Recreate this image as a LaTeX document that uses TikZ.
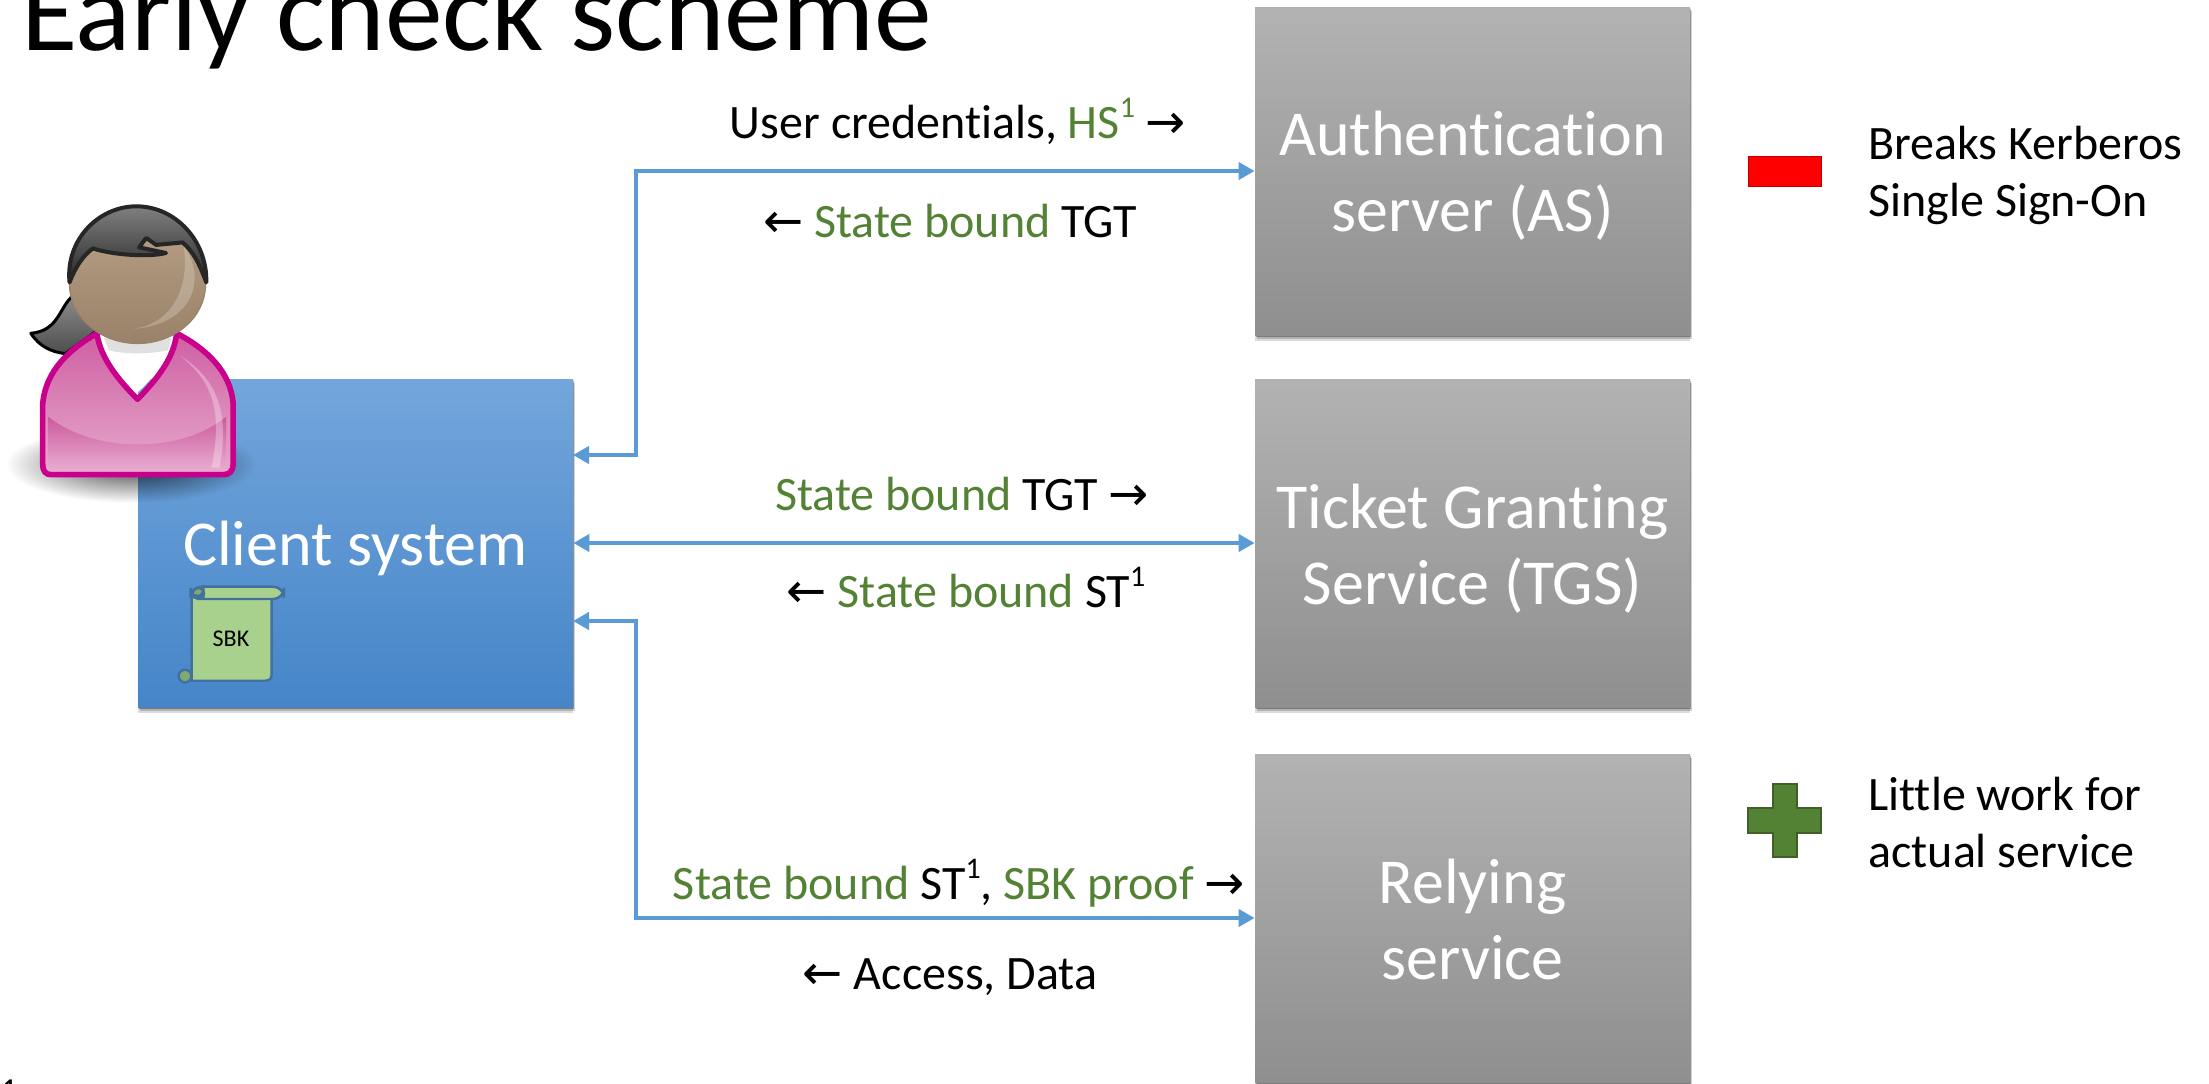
\documentclass[tikz,border=0pt]{standalone}
\usepackage{fontspec}
\setmainfont[Ligatures=NoCommon]{Carlito}
\newfontfamily\arrowfont{DejaVu Sans}
\usetikzlibrary{arrows.meta,shadows,fadings,calc}
\definecolor{lineblue}{HTML}{5B9BD5}
\definecolor{okgreen}{HTML}{548235}
\definecolor{pinkline}{HTML}{C8008C}
\definecolor{hairdark}{HTML}{262626}
\definecolor{clienttop}{HTML}{73A6DC}
\definecolor{clientmid}{HTML}{5B9BD9}
\definecolor{clientbot}{HTML}{4585C8}
\definecolor{scrollfill}{HTML}{A9D18E}
\definecolor{scrollcurl}{HTML}{7FAA72}
\definecolor{scrollline}{HTML}{41719C}
\definecolor{pinktop}{HTML}{CF5FA2}
\definecolor{pinkbot}{HTML}{E6AACD}
\definecolor{pinkglossb}{HTML}{E8ACD0}
\definecolor{pinkglosst}{HTML}{CC5A9E}
\definecolor{facetop}{HTML}{B59E84}
\definecolor{facebot}{HTML}{9A8169}
\newcommand{\gtxt}[1]{\textcolor{okgreen}{#1}}
\newcommand{\rarr}{{\arrowfont\char"2192}}
\newcommand{\larr}{{\arrowfont\char"2190}}
\newcommand{\supone}{\raisebox{.42em}{\fontsize{15}{15}\selectfont 1}}
\tikzfading[name=softblob, inner color=transparent!25, outer color=transparent!100]
\tikzset{
  softshadow/.style={
    general shadow={shadow xshift=0pt,shadow yshift=-3pt,fill=black,opacity=.14},
    general shadow={shadow xshift=1.2pt,shadow yshift=-2pt,fill=black,opacity=.18},
    general shadow={shadow xshift=.5pt,shadow yshift=-1.2pt,fill=black,opacity=.3}},
  server/.style={rectangle,inner sep=0pt,minimum width=217.5pt,minimum height=164pt,
    top color=black!30,bottom color=black!44,softshadow},
  clientbox/.style={rectangle,inner sep=0pt,minimum width=217.5pt,minimum height=164pt,
    top color=clienttop,middle color=clientmid,bottom color=clientbot,softshadow},
  boxtext/.style={text=white,align=center,inner sep=0pt,font=\fontsize{32}{38}\selectfont},
  conn/.style={draw=lineblue,line width=2.3pt,{Triangle[length=8pt,width=8.5pt]}-{Triangle[length=8pt,width=8.5pt]}},
  lab/.style={font=\fontsize{24}{28}\selectfont,inner sep=0pt,anchor=base},
  note/.style={font=\fontsize{24}{28.5}\selectfont,inner sep=0pt,align=left,anchor=west},
}
\begin{document}
\begin{tikzpicture}[x=0.5pt,y=-0.5pt]
\useasboundingbox (0,0) rectangle (2209,1083);
\clip (0,0) rectangle (2209,1083);
\fill[white] (0,0) rectangle (2209,1083);
\node[anchor=base west,inner sep=0pt,font=\fontsize{57.7}{66}\selectfont] (title) at (21,50) {Early check scheme};
% boxes
\node[server] (as) at (1472.5,171) {};
\node[server] (tgs) at (1472.5,543) {};
\node[server] (rs) at (1472.5,918) {};
\node[clientbox] (client) at (355.5,543) {};
\node[boxtext] (astext) at (1472.5,175.5) {Authentication\\server (AS)};
\node[boxtext] (tgstext) at (1472.5,548.5) {Ticket Granting\\Service (TGS)};
\node[boxtext] (rstext) at (1472.5,919) {Relying\\service};
\node[boxtext] (clienttext) at (355.5,548) {Client system};
% scroll
\begin{scope}[shift={(150,560)},x=0.1667pt,y=-0.1667pt,line width=1.2pt]
  \path[draw=scrollline,fill=scrollfill]
    (125,95) -- (125,362) -- (345,362) .. controls (360,362) and (365,355) .. (365,340) -- (365,100) -- cycle;
  \path[draw=scrollline,fill=scrollfill,rounded corners=5.5pt] (122,80) rectangle (402,117);
  \path[draw=scrollline,fill=scrollcurl] (145,100) circle[radius=17];
  \path[draw=scrollline,fill=scrollfill] (132,105) .. controls (145,112) and (158,105) .. (160,92) -- (160,110) -- (135,112) -- cycle;
  \path[draw=scrollline,fill=scrollcurl] (105,348) circle[radius=19];
\end{scope}
\node[font=\fontsize{12}{14}\selectfont,inner sep=0pt] (sbk) at (231,639) {SBK};
% person
\begin{scope}[shift={(0,180)},x=0.1976pt,y=-0.1754pt]
  \fill[black,path fading=softblob] (15,700) rectangle (650,920);
  % ponytail
  \path[draw=black,line width=1.5pt,line join=round,top color=black!45,bottom color=black!70]
    (185,330) .. controls (150,360) and (150,430) .. (78,437)
    .. controls (100,475) and (130,490) .. (165,495) -- (245,430) -- cycle;
  % body
  \path[draw=pinkline,line width=2.8pt,line join=round,top color=pinktop,bottom color=pinkbot]
    (108,810) -- (108,640) .. controls (115,540) and (180,480) .. (245,437)
    .. controls (255,510) and (300,570) .. (348,625)
    .. controls (395,570) and (440,510) .. (447,437)
    .. controls (520,480) and (585,545) .. (590,640) -- (590,810)
    .. controls (590,830) and (580,840) .. (565,840) -- (130,840)
    .. controls (115,840) and (108,830) .. (108,810) -- cycle;
  % lower gloss
  \path[top color=pinkglosst,bottom color=pinkglossb]
    (122,675) .. controls (240,780) and (460,780) .. (572,675) -- (572,805)
    .. controls (572,820) and (565,827) .. (555,827) -- (140,827)
    .. controls (128,827) and (122,820) .. (122,805) -- cycle;
  \path[fill=white,opacity=.3]
    (455,500) .. controls (520,560) and (570,630) .. (535,820) -- (555,820)
    .. controls (585,650) and (540,560) .. (455,500) -- cycle;
  % collar
  \path[fill=white] (263,450) .. controls (270,510) and (310,570) .. (348,605)
    .. controls (385,570) and (425,510) .. (433,450) -- cycle;
  \path[fill=black!12] (263,450) -- (433,450) -- (425,485) .. controls (380,497) and (310,497) .. (275,485) -- cycle;
  % face
  \path[top color=facetop,bottom color=facebot,draw=facebot,line width=.6pt]
    (348,298) ellipse[x radius=172,y radius=168];
  \path[fill=white,opacity=.22]
    (465,190) .. controls (520,270) and (500,410) .. (335,425)
    .. controls (440,410) and (480,300) .. (465,190) -- cycle;
  % hair
  \path[draw=hairdark,line width=2pt,line join=round,top color=black!50,bottom color=black!85]
    (176,292) .. controls (165,170) and (250,75) .. (345,75)
    .. controls (445,75) and (525,175) .. (522,292)
    .. controls (505,240) and (490,205) .. (462,178)
    -- (395,185) -- (370,165) -- (352,192) -- (420,208)
    .. controls (380,220) and (290,215) .. (235,195)
    .. controls (210,215) and (190,250) .. (176,292) -- cycle;
\end{scope}
% connectors
\coordinate (c1) at (573,455);
\coordinate (c3) at (573,621);
\coordinate (j1) at (636,171);
\coordinate (j3) at (636,918);
\draw[conn] (c1) -- (c1 -| j1) -- (j1) -- (as.west);
\draw[conn] (client.east) -- (tgs.west);
\draw[conn] (c3) -- (c3 -| j3) -- (j3) -- (rs.west);
% labels
\node[lab] (l1) at (958,138) {User credentials, \gtxt{HS\supone} \rarr};
\node[lab] (l2) at (950,237) {\larr\ \gtxt{State bound} TGT};
\node[lab] (l3) at (962,510) {\gtxt{State bound} TGT \rarr};
\node[lab] (l4) at (966,607) {\larr\ \gtxt{State bound} ST\supone};
\node[lab] (l5) at (959,899) {\gtxt{State bound} ST\supone, \gtxt{SBK proof} \rarr};
\node[lab] (l6) at (950,989) {\larr\ Access, Data};
% legend
\node[rectangle,inner sep=0pt,minimum width=36.5pt,minimum height=15pt,fill=red,draw=red!75!black,line width=.5pt] (minus) at (1784.5,171) {};
\node[note] (n1) at (1868,175) {Breaks Kerberos\\Single Sign-On};
\path[fill=okgreen,draw=okgreen!75!black,line width=.8pt]
  (1773,784) -- (1797,784) -- (1797,808) -- (1821,808) -- (1821,833) -- (1797,833)
  -- (1797,857) -- (1773,857) -- (1773,833) -- (1748,833) -- (1748,808) -- (1773,808) -- cycle;
\node[note] (n2) at (1868,822) {Little work for\\actual service};
% footnote, cut by the page edge
\node[anchor=base west,inner sep=0pt,font=\bfseries\fontsize{12}{14}\selectfont] (fn) at (3,1095) {1};
\end{tikzpicture}
\end{document}
